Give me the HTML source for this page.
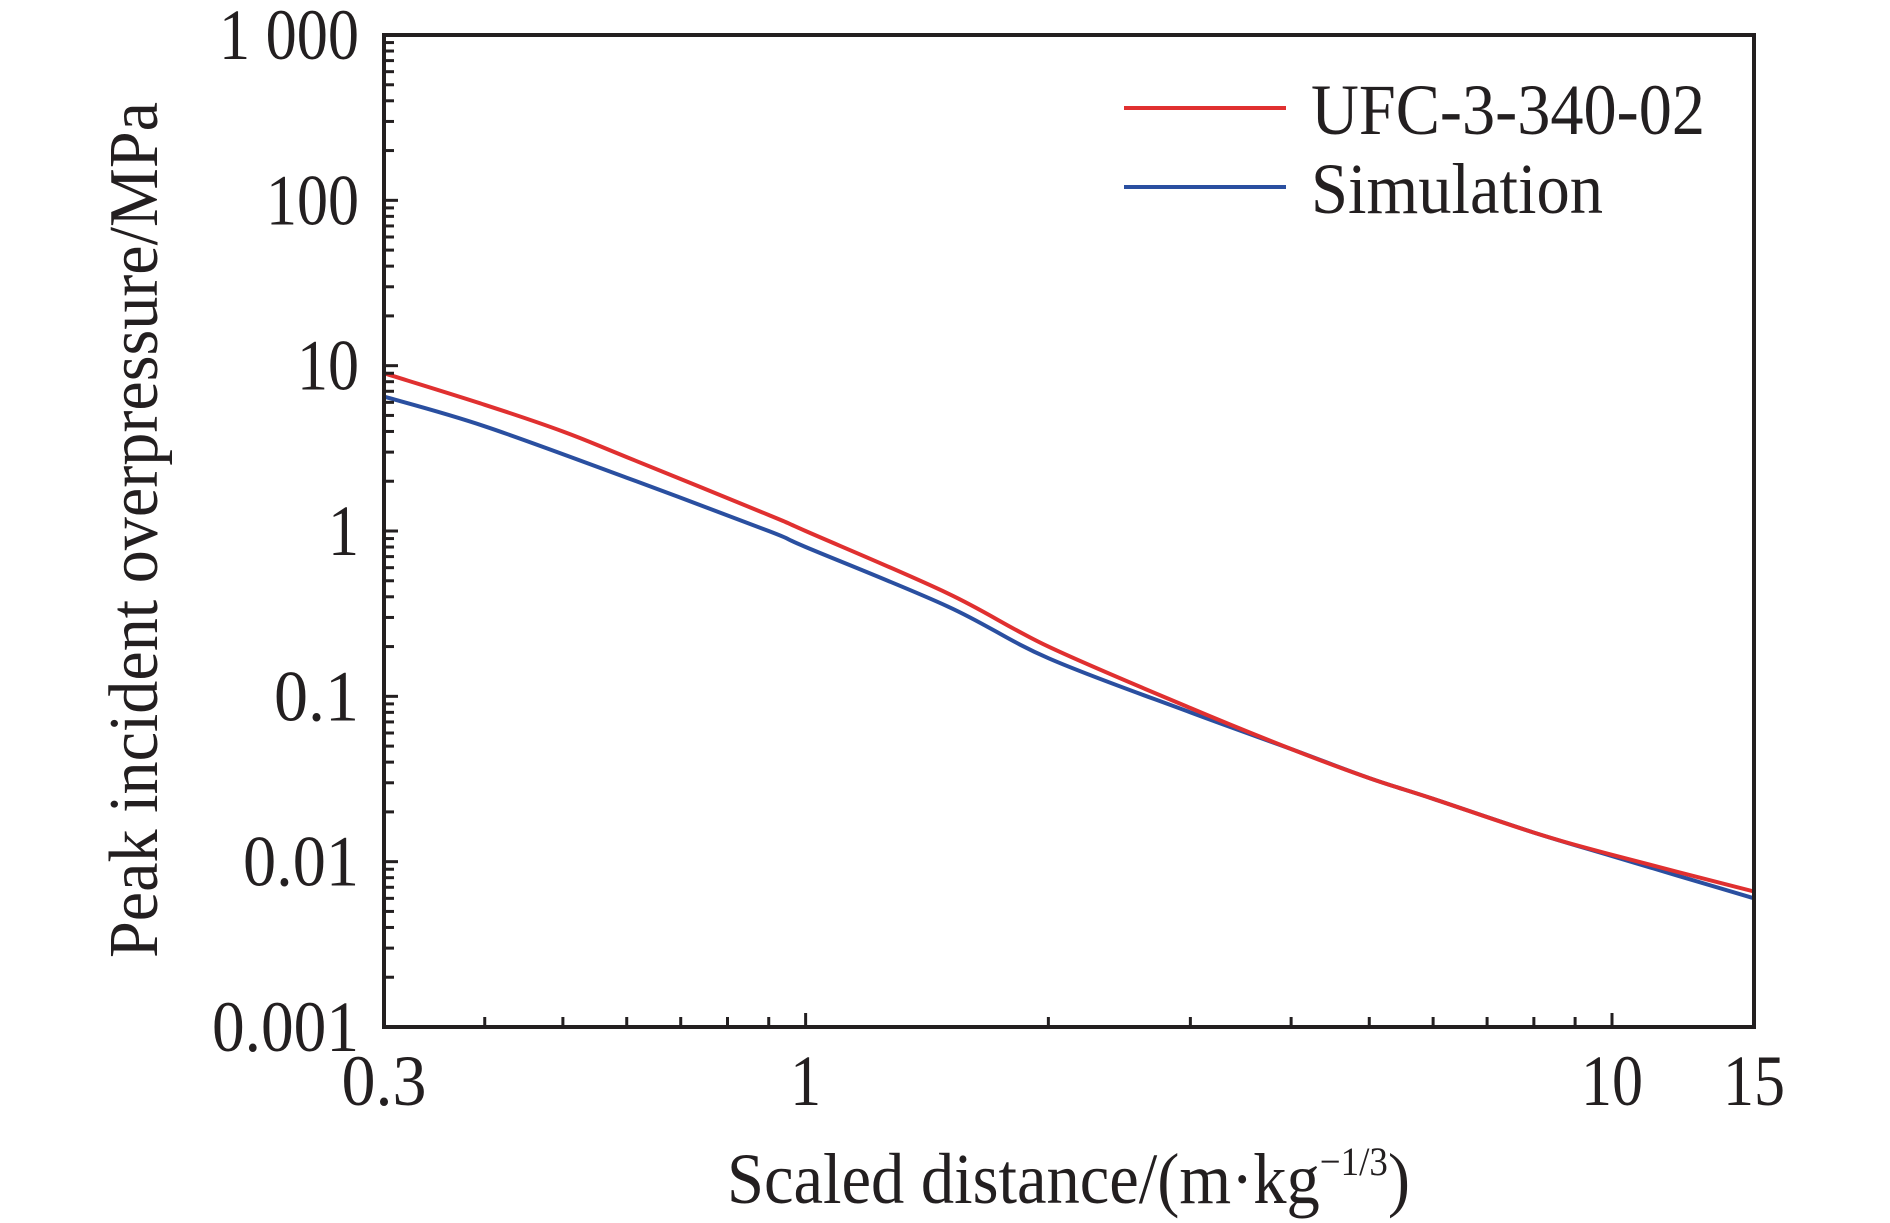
<!DOCTYPE html>
<html><head><meta charset="utf-8"><style>
html,body{margin:0;padding:0;background:#fff;}
svg{display:block;font-family:"Liberation Serif",serif;}
</style></head><body>
<svg id="chart" width="1890" height="1223" viewBox="0 0 1890 1223">
<g id="marks"></g>
<rect x="384" y="35" width="1370" height="992" fill="none" stroke="#231f20" stroke-width="4"/>
<g id="ticks"></g>
<text x="727" y="1203" font-size="72" textLength="683" lengthAdjust="spacingAndGlyphs" fill="#231f20">Scaled distance/(m·kg<tspan font-size="40" dy="-28">−1/3</tspan><tspan dy="28">)</tspan></text>
<text transform="translate(157,530) rotate(-90)" font-size="70" text-anchor="middle" textLength="856" lengthAdjust="spacingAndGlyphs" fill="#231f20">Peak incident overpressure/MPa</text>
<g>
<line x1="1124" y1="108" x2="1286" y2="108" stroke="#e03030" stroke-width="4"/>
<text x="1311" y="134" font-size="72" textLength="394" lengthAdjust="spacingAndGlyphs" fill="#231f20">UFC-3-340-02</text>
<line x1="1124" y1="187" x2="1286" y2="187" stroke="#2a4fa0" stroke-width="4"/>
<text x="1311" y="213" font-size="72" textLength="292" lengthAdjust="spacingAndGlyphs" fill="#231f20">Simulation</text>
</g>
</svg>
<script>
const ufcX=[0.3,0.4,0.5,0.6,0.9,1,1.5,2,3,4,5,6,8,10,15];
const ufcY=[9,5.8,4,2.8,1.25,1.0,0.42,0.2,0.085,0.048,0.032,0.024,0.015,0.011,0.0066];
const simX=[0.3,0.4,0.6,0.9,1,1.5,2,3,4,5,6,8,10,15];
const simY=[6.5,4.3,2.1,1.0,0.8,0.35,0.17,0.08,0.048,0.032,0.024,0.015,0.0108,0.006];
const xTickVals=[0.3,1,10,15];
const xTickLabels=["0.3","1","10","15"];
const yTickVals=[0.001,0.01,0.1,1,10,100,1000];
const yTickLabels=["0.001","0.01","0.1","1","10","100","1 000"];
const L=384,R=1754,T=35,B=1027;
const xMin=0.3,xMax=15,yMin=0.001,yMax=1000;
function sx(v){return L+(Math.log10(v)-Math.log10(xMin))/(Math.log10(xMax)-Math.log10(xMin))*(R-L);}
function sy(v){return B-(Math.log10(v)-Math.log10(yMin))/(Math.log10(yMax)-Math.log10(yMin))*(B-T);}
const NS="http://www.w3.org/2000/svg";
const marks=document.getElementById('marks'),ticks=document.getElementById('ticks');
function smoothPath(pts){
  let d='M'+pts[0][0].toFixed(1)+','+pts[0][1].toFixed(1);
  for(let i=0;i<pts.length-1;i++){
    const p0=pts[Math.max(0,i-1)],p1=pts[i],p2=pts[i+1],p3=pts[Math.min(pts.length-1,i+2)];
    const c1=[p1[0]+(p2[0]-p0[0])/6,p1[1]+(p2[1]-p0[1])/6];
    const c2=[p2[0]-(p3[0]-p1[0])/6,p2[1]-(p3[1]-p1[1])/6];
    d+=' C'+c1.map(v=>v.toFixed(1)).join(',')+' '+c2.map(v=>v.toFixed(1)).join(',')+' '+p2.map(v=>v.toFixed(1)).join(',');
  }
  return d;
}
function line(xs,ys,color,name){
  const p=document.createElementNS(NS,'path');
  p.setAttribute('d',smoothPath(xs.map((x,i)=>[sx(x),sy(ys[i])])));
  p.setAttribute('fill','none');p.setAttribute('stroke',color);p.setAttribute('stroke-width','4');
  p.setAttribute('stroke-linejoin','round');
  
  
  marks.appendChild(p);
}
line(simX,simY,'#2a4fa0','simulation-line');
line(ufcX,ufcY,'#e03030','ufc-line');
function tk(x1,y1,x2,y2){const l=document.createElementNS(NS,'line');
  l.setAttribute('x1',x1);l.setAttribute('y1',y1);l.setAttribute('x2',x2);l.setAttribute('y2',y2);
  l.setAttribute('stroke','#231f20');l.setAttribute('stroke-width','3');
  
  
  ticks.appendChild(l);}
function txt(x,y,s,anchor,name){const t=document.createElementNS(NS,'text');
  t.setAttribute('x',x);t.setAttribute('y',y);t.setAttribute('font-size','72');t.setAttribute('fill','#231f20');
  t.setAttribute('text-anchor',anchor);t.textContent=s;
  const w=s.replace(/ /g,'').length*31+(s.includes(' ')?16:0)-(s.includes('.')?8:0);
  t.setAttribute('textLength',w);t.setAttribute('lengthAdjust','spacingAndGlyphs');
  
  
  ticks.appendChild(t);}
for(let d=-1;d<=1;d++)for(let m=1;m<10;m++){const v=m*Math.pow(10,d);if(v<xMin||v>xMax)continue;
  const x=sx(v);tk(x,B,x,B-(m===1?14:10));}
for(let d=-3;d<3;d++)for(let m=1;m<10;m++){const v=m*Math.pow(10,d);const y=sy(v);tk(L,y,L+(m===1?14:10),y);}
xTickVals.forEach((v,i)=>txt(sx(v),1105,xTickLabels[i],'middle','x-tick-label'));
yTickVals.forEach((v,i)=>txt(359,sy(v)+24,yTickLabels[i],'end','y-tick-label'));
</script>
</body></html>
